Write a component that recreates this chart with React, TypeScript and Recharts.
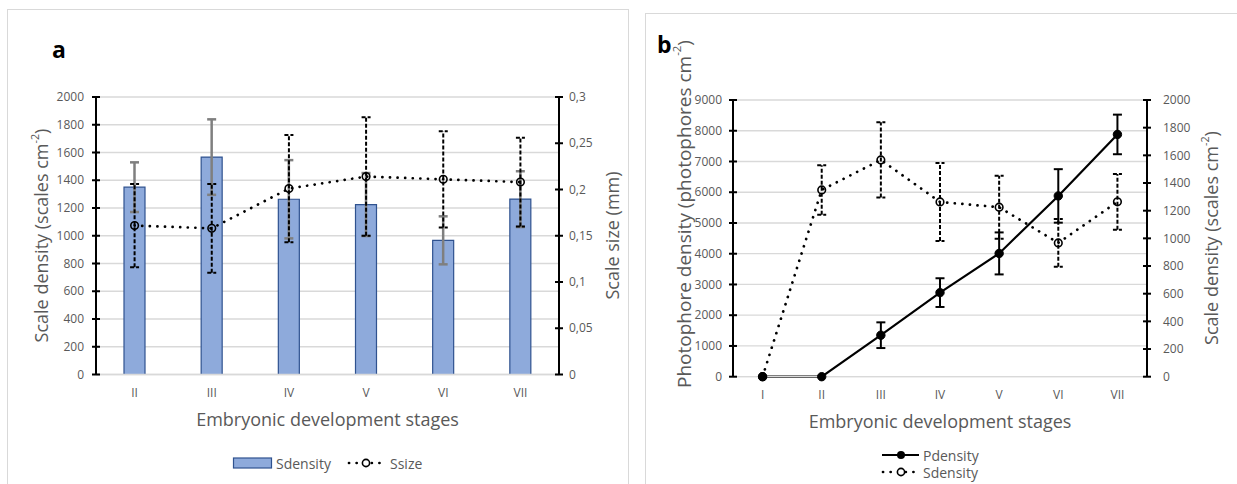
import { Bar, CartesianGrid, ComposedChart, ErrorBar, Line, XAxis, YAxis } from 'recharts'

// Panel a: scale density (bars) and scale size (line) per stage
const STAGES_A = ['II', 'III', 'IV', 'V', 'VI', 'VII']
const SDENSITY_A = [1350, 1567, 1263, 1225, 967, 1264]
const SDENSITY_A_ERR = [179, 272, 282, 227, 173, 201]
const SSIZE_A = [0.161, 0.158, 0.201, 0.214, 0.211, 0.208]
const SSIZE_A_ERR = [0.045, 0.048, 0.058, 0.064, 0.052, 0.048]

// Panel b: photophore density and scale density per stage
const STAGES_B = ['I', 'II', 'III', 'IV', 'V', 'VI', 'VII']
const PDENSITY_B = [0, 0, 1350, 2735, 4010, 5880, 7880]
const PDENSITY_B_ERR = [0, 0, 418, 467, 683, 870, 644]
const SDENSITY_B = [0, 1350, 1567, 1263, 1225, 967, 1264]
const SDENSITY_B_ERR = [0, 179, 272, 282, 227, 173, 201]

const TICKS_A_LEFT = [0, 200, 400, 600, 800, 1000, 1200, 1400, 1600, 1800, 2000]
const TICKS_A_RIGHT = [0, 0.05, 0.1, 0.15, 0.2, 0.25, 0.3]
const TICKS_B_LEFT = [0, 1000, 2000, 3000, 4000, 5000, 6000, 7000, 8000, 9000]
const TICKS_B_RIGHT = [0, 200, 400, 600, 800, 1000, 1200, 1400, 1600, 1800, 2000]

const GREY = '#595959'
const GRID = '#d9d9d9'
const FONT = '"Open Sans", sans-serif'
const TICK_SIZE = 4
const DOTTED = '0.1 7.5'
// recharts' ErrorBar width is the half-length of the cap
const CAP = 4.5

const dataA = STAGES_A.map((stage, i) => ({
	stage,
	sDensity: SDENSITY_A[i],
	sDensityErr: SDENSITY_A_ERR[i],
	sSize: SSIZE_A[i],
	sSizeErr: SSIZE_A_ERR[i]
}))

const dataB = STAGES_B.map((stage, i) => ({
	stage,
	pDensity: PDENSITY_B[i],
	pDensityErr: PDENSITY_B_ERR[i],
	sDensity: SDENSITY_B[i],
	sDensityErr: SDENSITY_B_ERR[i]
}))

const comma = (v: number) => String(v).replace('.', ',')

// Excel-style "cross" tick mark plus the label
function YTick(props: any) {
	const { x, y, payload, side, margin, fmt } = props
	const axisX = side === 'left' ? x + TICK_SIZE + margin : x - TICK_SIZE - margin
	return (
		<g>
			<line x1={axisX - 4} x2={axisX + 4} y1={y} y2={y} stroke="#000" strokeWidth={2} />
			<text
				x={x}
				y={y}
				dy="0.35em"
				textAnchor={side === 'left' ? 'end' : 'start'}
				fontSize={12}
				fontFamily={FONT}
				fill={GREY}
			>
				{fmt ? fmt(payload.value) : payload.value}
			</text>
		</g>
	)
}

function VTitle({ cx, cy, size, text, sup }: { cx: number; cy: number; size: number; text: string; sup?: boolean }) {
	return (
		<text
			transform={`translate(${cx} ${cy}) rotate(-90)`}
			textAnchor="middle"
			dominantBaseline="central"
			fontSize={size}
			fontFamily={FONT}
			fill={GREY}
		>
			{text}
			{sup && (
				<>
					<tspan fontSize={size * 0.6} dy={-size * 0.4}>
						-2
					</tspan>
					<tspan dy={size * 0.4}>)</tspan>
				</>
			)}
		</text>
	)
}

function Overlay() {
	return (
		<svg width={1237} height={484} style={{ position: 'absolute', left: 0, top: 0 }}>
			<rect x={7.5} y={9.5} width={621} height={490} fill="none" stroke={GRID} />
			<rect x={645.5} y={13.5} width={600} height={490} fill="none" stroke={GRID} />
			<text x={52} y={58} fontSize={23} fontWeight="bold" fontFamily={FONT} fill="#000">
				a
			</text>
			<text x={657} y={53} fontSize={23} fontWeight="bold" fontFamily={FONT} fill="#000">
				b
			</text>

			<VTitle cx={41} cy={235.5} size={18} text="Scale density (scales cm" sup />
			<VTitle cx={612} cy={235.5} size={18} text="Scale size (mm)" />
			<text x={327.5} y={419} textAnchor="middle" dominantBaseline="central" fontSize={18} fontFamily={FONT} fill={GREY}>
				Embryonic development stages
			</text>

			<VTitle cx={684} cy={214} size={19} text="Photophore density (photophores cm" sup />
			<VTitle cx={1211} cy={238} size={18} text="Scale density (scales cm" sup />
			<text x={940} y={421} textAnchor="middle" dominantBaseline="central" fontSize={18} fontFamily={FONT} fill={GREY}>
				Embryonic development stages
			</text>

			{/* legend a */}
			<rect x={233.5} y={458} width={38} height={10} fill="#8eaadb" stroke="#2f528f" strokeWidth={1.2} />
			<text x={276} y={463} dominantBaseline="central" fontSize={14} fontFamily={FONT} fill={GREY}>
				Sdensity
			</text>
			<line x1={349} x2={386} y1={463} y2={463} stroke="#000" strokeWidth={2.7} strokeLinecap="round" strokeDasharray={DOTTED} />
			<circle cx={366} cy={463} r={3.6} fill="#fff" stroke="#000" strokeWidth={1.6} />
			<text x={390} y={463} dominantBaseline="central" fontSize={14} fontFamily={FONT} fill={GREY}>
				Ssize
			</text>

			{/* legend b */}
			<line x1={882} x2={919} y1={455} y2={455} stroke="#000" strokeWidth={2.2} />
			<circle cx={901} cy={455} r={4} fill="#000" />
			<text x={923} y={455} dominantBaseline="central" fontSize={14} fontFamily={FONT} fill={GREY}>
				Pdensity
			</text>
			<line x1={883} x2={919} y1={472} y2={472} stroke="#000" strokeWidth={2.7} strokeLinecap="round" strokeDasharray={DOTTED} />
			<circle cx={901} cy={472} r={3.6} fill="#fff" stroke="#000" strokeWidth={1.6} />
			<text x={923} y={472} dominantBaseline="central" fontSize={14} fontFamily={FONT} fill={GREY}>
				Sdensity
			</text>
		</svg>
	)
}

function PanelA() {
	return (
		<div style={{ position: 'absolute', left: 0, top: 0 }}>
			<ComposedChart width={640} height={484} data={dataA} margin={{ top: 97, right: 31, bottom: 79.5, left: 36 }}>
				<CartesianGrid vertical={false} stroke={GRID} strokeWidth={1.3} yAxisId="left" />
				<XAxis
					dataKey="stage"
					height={30}
					axisLine={{ stroke: GRID, strokeWidth: 1.3 }}
					tickLine={false}
					tickSize={6}
					tickMargin={8}
					tick={{ fontSize: 12, fontFamily: FONT, fill: GREY }}
				/>
				<YAxis
					yAxisId="left"
					width={60}
					domain={[0, 2000]}
					ticks={TICKS_A_LEFT}
					interval={0}
					axisLine={{ stroke: '#000', strokeWidth: 2 }}
					tickLine={false}
					tickSize={TICK_SIZE}
					tickMargin={8}
					tick={(p: any) => <YTick {...p} side="left" margin={8} />}
				/>
				<YAxis
					yAxisId="right"
					orientation="right"
					width={50}
					domain={[0, 0.3]}
					ticks={TICKS_A_RIGHT}
					interval={0}
					axisLine={{ stroke: '#000', strokeWidth: 2 }}
					tickLine={false}
					tickSize={TICK_SIZE}
					tickMargin={6}
					tick={(p: any) => <YTick {...p} side="right" margin={6} fmt={comma} />}
				/>
				<Bar
					yAxisId="left"
					dataKey="sDensity"
					barSize={21}
					fill="#8eaadb"
					stroke="#2f528f"
					strokeWidth={1.2}
					isAnimationActive={false}
				>
					<ErrorBar dataKey="sDensityErr" width={CAP} stroke="#7f7f7f" strokeWidth={2.5} />
				</Bar>
				<Line
					yAxisId="right"
					dataKey="sSize"
					stroke="#000"
					strokeWidth={2.7}
					strokeLinecap="round"
					strokeDasharray={DOTTED}
					dot={{ r: 3.8, fill: 'none', stroke: '#000', strokeWidth: 1.6, strokeDasharray: 'none' }}
					isAnimationActive={false}
				>
					<ErrorBar dataKey="sSizeErr" width={CAP} stroke="#000" strokeWidth={2} strokeDasharray="4 2" />
				</Line>
			</ComposedChart>
		</div>
	)
}

function PanelB() {
	return (
		<div style={{ position: 'absolute', left: 640, top: 0 }}>
			<ComposedChart width={597} height={484} data={dataB} margin={{ top: 100, right: 40, bottom: 77.3, left: 33 }}>
				<CartesianGrid vertical={false} stroke={GRID} strokeWidth={1.3} yAxisId="left" />
				<XAxis
					dataKey="stage"
					scale="band"
					height={30}
					axisLine={{ stroke: GRID, strokeWidth: 1.3 }}
					tickLine={false}
					tickSize={6}
					tickMargin={8}
					tick={{ fontSize: 12, fontFamily: FONT, fill: GREY }}
				/>
				<YAxis
					yAxisId="left"
					width={60}
					domain={[0, 9000]}
					ticks={TICKS_B_LEFT}
					interval={0}
					axisLine={{ stroke: '#000', strokeWidth: 2 }}
					tickLine={false}
					tickSize={TICK_SIZE}
					tickMargin={7}
					tick={(p: any) => <YTick {...p} side="left" margin={7} />}
				/>
				<YAxis
					yAxisId="right"
					orientation="right"
					width={50}
					domain={[0, 2000]}
					ticks={TICKS_B_RIGHT}
					interval={0}
					axisLine={{ stroke: '#000', strokeWidth: 2 }}
					tickLine={false}
					tickSize={TICK_SIZE}
					tickMargin={12}
					tick={(p: any) => <YTick {...p} side="right" margin={12} />}
				/>
				<Line
					yAxisId="right"
					dataKey="sDensity"
					stroke="#000"
					strokeWidth={2.7}
					strokeLinecap="round"
					strokeDasharray={DOTTED}
					dot={{ r: 3.8, fill: 'none', stroke: '#000', strokeWidth: 1.6, strokeDasharray: 'none' }}
					isAnimationActive={false}
				>
					<ErrorBar dataKey="sDensityErr" width={CAP} stroke="#000" strokeWidth={2} strokeDasharray="4 2" />
				</Line>
				<Line
					yAxisId="left"
					dataKey="pDensity"
					stroke="#000"
					strokeWidth={2.2}
					dot={{ r: 4.2, fill: '#000', stroke: '#000', strokeWidth: 1 }}
					isAnimationActive={false}
				>
					<ErrorBar dataKey="pDensityErr" width={CAP} stroke="#000" strokeWidth={2} />
				</Line>
			</ComposedChart>
		</div>
	)
}

export default function App() {
	return (
		<div style={{ position: 'absolute', left: 0, top: 0, width: 1237, height: 484, background: '#fff' }}>
			<Overlay />
			<PanelA />
			<PanelB />
		</div>
	)
}
